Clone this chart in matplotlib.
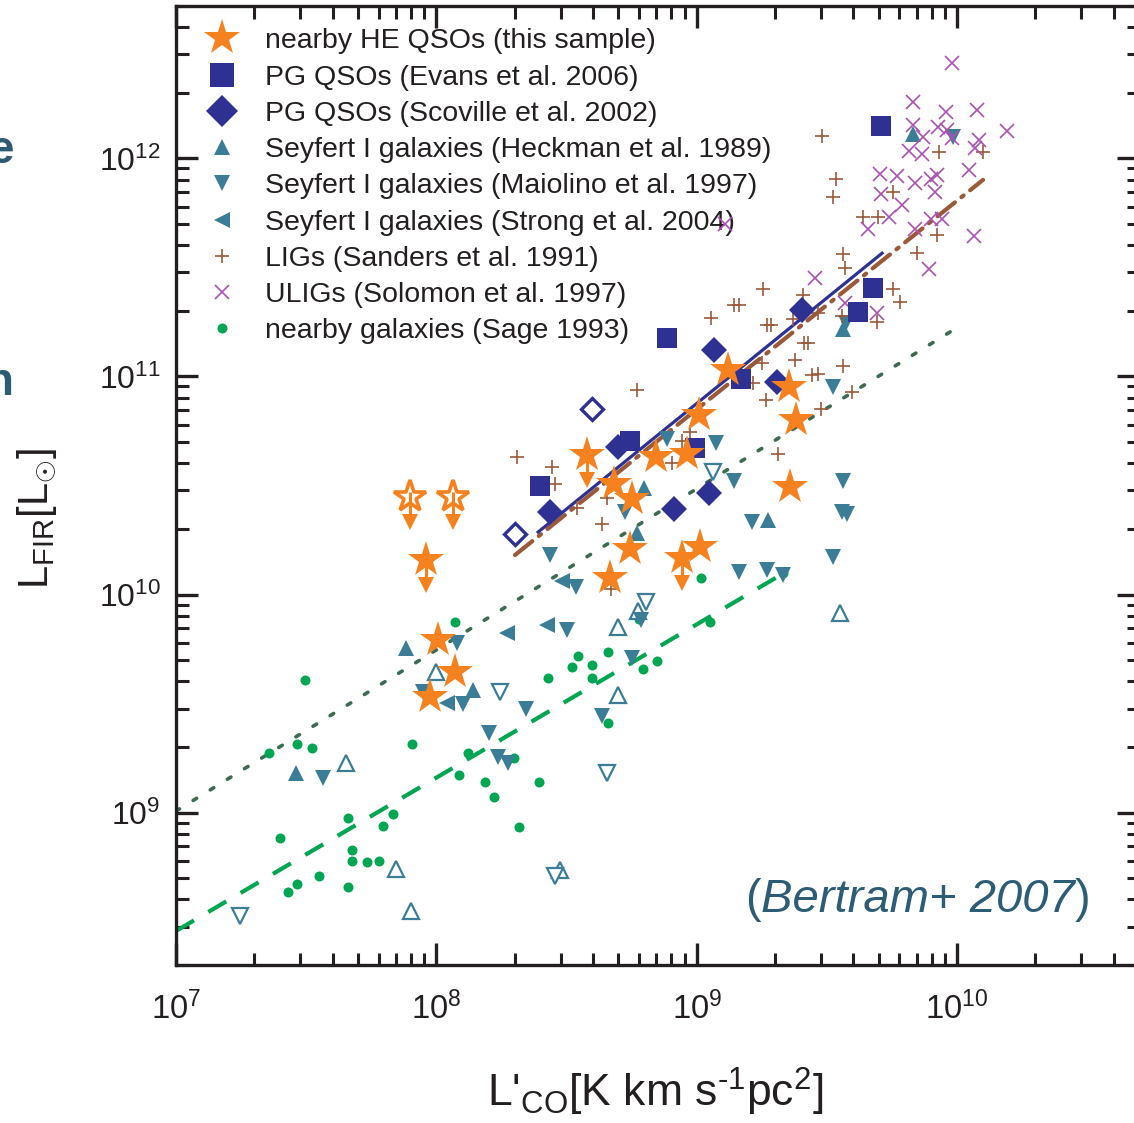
import numpy as np
import matplotlib
matplotlib.use('Agg')
import matplotlib.pyplot as plt
from matplotlib.lines import Line2D

plt.rcParams['font.family'] = ['Liberation Sans', 'DejaVu Sans']
plt.rcParams['mathtext.fontset'] = 'custom'
plt.rcParams['mathtext.rm'] = 'Liberation Sans'
plt.rcParams['mathtext.it'] = 'Liberation Sans:italic'
plt.rcParams['lines.scale_dashes'] = False

# ---------------- data (log10 values) ----------------
# nearby HE QSOs (this sample)
he_lx = [8.007, 8.072, 7.976, 8.683, 8.752, 8.744, 8.667, 8.844, 8.963, 9.009, 9.121, 9.355, 9.382, 9.359, 9.013]
he_ly = [9.792, 9.645, 9.530, 10.507, 10.438, 10.209, 10.076, 10.631, 10.645, 10.823, 11.030, 10.952, 10.800, 10.493, 10.218]
he_lim_lx = [7.960, 8.579, 8.944]
he_lim_ly = [10.158, 10.640, 10.168]
he_open_lx = [7.899, 8.064]
he_open_ly = [10.447, 10.447]

# PG QSOs (Evans et al. 2006)
evans_lx = [9.708, 9.678, 9.620, 8.886, 9.171, 8.744, 8.994, 8.398]
evans_ly = [12.149, 11.406, 11.296, 11.176, 10.988, 10.704, 10.672, 10.498]

# PG QSOs (Scoville et al. 2002)
scov_lx = [9.405, 9.067, 9.309, 8.698, 8.437, 9.048, 8.913]
scov_ly = [11.305, 11.121, 10.975, 10.677, 10.379, 10.466, 10.392]
scov_open_lx = [8.598, 8.302]
scov_open_ly = [10.851, 10.278]

# Seyfert I (Heckman et al. 1989)
heck_lx = [9.831, 9.562, 8.798, 8.771, 9.274, 7.884, 8.141, 7.461]
heck_ly = [12.112, 11.218, 10.489, 10.282, 10.342, 9.755, 9.562, 9.182]
heck_open_lx = [7.999, 7.653, 7.845, 7.903, 8.698, 8.475, 8.698, 8.775, 9.551]
heck_open_ly = [9.645, 9.227, 8.741, 8.549, 9.539, 8.737, 9.851, 9.925, 9.915]

# Seyfert I (Maiolino et al. 1997)
maio_lx = [9.524, 9.075, 8.886, 9.144, 9.562, 9.559, 9.578, 9.213, 9.524, 9.163, 9.270, 9.332,
           8.725, 8.437, 8.537, 8.502, 8.080, 8.752, 8.637, 8.345, 8.103, 7.949, 8.202, 8.237,
           8.275, 7.565, 9.985, 9.574, 8.786]
maio_ly = [10.952, 10.695, 10.713, 10.521, 10.521, 10.379, 10.369, 10.333, 10.172, 10.103, 10.113, 10.090,
           10.379, 10.181, 10.035, 9.837, 9.778, 9.709, 9.443, 9.475, 9.498, 9.553, 9.365, 9.255,
           9.227, 9.159, 12.098, 11.245, 9.883]
maio_open_lx = [7.246, 8.245, 8.656, 8.456, 8.806, 9.063]
maio_open_ly = [8.526, 9.553, 9.182, 8.709, 9.966, 10.562]

# Seyfert I (Strong et al. 2004)
strong_lx = [8.483, 8.425, 8.272, 8.041]
strong_ly = [10.062, 9.860, 9.824, 9.503]

# LIGs (Sanders et al. 1991)
lig_lx = [9.482, 9.536, 9.524, 9.639, 9.697, 9.755, 9.931, 10.100, 9.924, 9.847, 9.562, 9.570,
          9.255, 9.409, 9.755, 9.781, 9.144, 9.163, 9.055, 9.270, 9.286, 9.370, 9.466, 9.559,
          9.693, 9.413, 9.428, 9.251, 9.378, 9.443, 9.466, 9.562, 9.597, 9.478, 9.217, 9.267,
          8.975, 8.944, 8.906, 9.313, 8.771, 8.310, 8.444, 8.456, 8.541, 8.656, 8.637, 8.671]
lig_ly = [12.103, 11.906, 11.823, 11.731, 11.731, 11.846, 12.029, 12.029, 11.649, 11.566, 11.562, 11.497,
          11.401, 11.374, 11.401, 11.342, 11.328, 11.328, 11.268, 11.236, 11.236, 11.264, 11.291, 11.277,
          11.250, 11.154, 11.154, 11.062, 11.076, 11.007, 11.011, 11.048, 10.929, 10.851, 10.970, 10.892,
          10.745, 10.704, 10.603, 10.645, 10.938, 10.631, 10.585, 10.507, 10.397, 10.443, 10.324, 10.025]

# ULIGs (Solomon et al. 1997)
ulig_lx = [9.981, 9.831, 9.958, 10.077, 9.831, 9.927, 9.962, 9.870, 9.981, 10.085, 10.070, 10.192,
           9.816, 9.866, 9.705, 9.770, 9.839, 9.900, 9.924, 9.916, 10.047, 9.708, 9.789, 9.739,
           9.658, 9.839, 9.900, 9.943, 10.066, 9.893, 9.455, 9.570, 9.693, 9.109]
ulig_ly = [12.438, 12.259, 12.213, 12.222, 12.153, 12.144, 12.130, 12.098, 12.094, 12.084, 12.048, 12.126,
           12.034, 12.020, 11.929, 11.919, 11.887, 11.906, 11.924, 11.846, 11.947, 11.837, 11.786, 11.731,
           11.676, 11.676, 11.722, 11.722, 11.644, 11.493, 11.452, 11.337, 11.291, 11.699]

# nearby galaxies (Sage 1993)
sage_lx = [7.496, 7.465, 7.522, 7.357, 7.907, 7.661, 7.400, 7.795, 7.834, 7.676, 7.676, 7.734, 7.780,
           7.549, 7.465, 7.430, 7.661, 8.087, 8.187, 8.222, 8.299, 8.395, 8.318, 8.429, 8.521, 8.544,
           8.598, 8.598, 8.660, 8.660, 8.794, 8.072, 8.122, 8.779, 9.017, 9.051, 8.848, 9.332]
sage_ly = [9.608, 9.315, 9.296, 9.273, 9.315, 8.975, 8.884, 8.939, 8.994, 8.828, 8.778, 8.774, 8.778,
           8.709, 8.673, 8.636, 8.659, 9.172, 9.140, 9.072, 9.250, 9.140, 8.934, 9.617, 9.668, 9.718,
           9.677, 9.617, 9.737, 9.411, 9.659, 9.874, 9.273, 9.888, 10.076, 9.874, 9.695, 10.099]

# fitted relations: (slope, intercept, log x start, log x end)
fit_pg = (0.968, 2.164, 8.391, 9.712)
fit_lig = (0.957, 2.236, 8.302, 10.100)
fit_sey = (0.739, 3.834, 7.0, 10.004)
fit_gal = (0.703, 3.536, 7.0, 9.336)

labels = ['nearby HE QSOs (this sample)', 'PG QSOs (Evans et al. 2006)',
          'PG QSOs (Scoville et al. 2002)', 'Seyfert I galaxies (Heckman et al. 1989)',
          'Seyfert I galaxies (Maiolino et al. 1997)', 'Seyfert I galaxies (Strong et al. 2004)',
          'LIGs (Sanders et al. 1991)', 'ULIGs (Solomon et al. 1997)', 'nearby galaxies (Sage 1993)']

# ---------------- style ----------------
INK = '#231f20'
ORANGE = '#f5821f'
NAVY = '#2e3192'
TEAL = '#3b7d96'
BROWN = '#9a5a3a'
PURPLE = '#a852b2'
GREEN = '#00a651'
DKGREEN = '#3d6b52'
CITE = '#2d5d76'
ARROW_DEX = 0.115

W, H = 1134, 1123
fig = plt.figure(figsize=(W / 100, H / 100), dpi=100)
ax = fig.add_axes([176 / W, 1 - 965 / H, 963 / W, 959 / H])
ax.set_xscale('log')
ax.set_yscale('log')
ax.set_xlim(1e7, 5e10)
ax.set_ylim(2e8, 5e12)


def P(a):
    return 10 ** np.asarray(a, dtype=float)


def fit_line(fit, **kw):
    s, c, lo, hi = fit
    lx = np.array([lo, hi])
    ax.plot(P(lx), P(c + s * lx), **kw)


# fitted lines
fit_line(fit_sey, color=DKGREEN, lw=2.6, dashes=(3, 11.5), dash_capstyle='round', zorder=2)
fit_line(fit_gal, color=GREEN, lw=3.0, dashes=(15, 12), zorder=2)
fit_line(fit_lig, color=BROWN, lw=3.0, dashes=(16, 6, 2, 6), dash_capstyle='round', zorder=2)
fit_line(fit_pg, color=NAVY, lw=2.3, zorder=2)

# samples
ax.plot(P(sage_lx), P(sage_ly), 'o', ms=7.2, color=GREEN, mew=0, zorder=3)
ax.plot(P(heck_open_lx), P(heck_open_ly), '^', ms=11, mfc='white', mec=TEAL, mew=1.6, zorder=3)
ax.plot(P(maio_open_lx), P(maio_open_ly), 'v', ms=11, mfc='white', mec=TEAL, mew=1.6, zorder=3)
ax.plot(P(heck_lx), P(heck_ly), '^', ms=11.5, color=TEAL, mew=0, zorder=3)
ax.plot(P(maio_lx), P(maio_ly), 'v', ms=11.5, color=TEAL, mew=0, zorder=3)
ax.plot(P(strong_lx), P(strong_ly), '<', ms=11.5, color=TEAL, mew=0, zorder=3)
ax.plot(P(lig_lx), P(lig_ly), '+', ms=10, color=BROWN, mew=1.2, zorder=3)
ax.plot(P(ulig_lx), P(ulig_ly), 'x', ms=9.5, color=PURPLE, mew=1.2, zorder=3)

ax.plot(P(scov_lx), P(scov_ly), 'D', ms=13.2, color=NAVY, mew=0, zorder=4)
ax.plot(P(scov_open_lx), P(scov_open_ly), 'D', ms=11.5, mfc='white', mec=NAVY, mew=2.4, zorder=4)
ax.plot(P(evans_lx), P(evans_ly), 's', ms=13.8, color=NAVY, mew=0, zorder=4)

# HE QSOs
ax.plot(P(he_lx), P(he_ly), '*', ms=27, color=ORANGE, mew=0, zorder=5)
ax.plot(P(he_lim_lx), P(he_lim_ly), '*', ms=27, color=ORANGE, mew=0, zorder=5)
lim_x = P(he_lim_lx)
lim_y = P(he_lim_ly)
ax.vlines(lim_x, lim_y * 10 ** (-ARROW_DEX), lim_y, color=ORANGE, lw=2.2, zorder=5)
ax.plot(lim_x, lim_y * 10 ** (-ARROW_DEX), 'v', ms=12, color=ORANGE, mew=0, zorder=5)
ax.plot(P(he_open_lx), P(he_open_ly), '*', ms=24, mfc='white', mec=ORANGE, mew=2.6, zorder=5)
op_x = P(he_open_lx)
op_y = P(he_open_ly)
ax.vlines(op_x, op_y * 10 ** (-ARROW_DEX), op_y * 10 ** 0.025, color=ORANGE, lw=2.2, zorder=6)
ax.plot(op_x, op_y * 10 ** (-ARROW_DEX), 'v', ms=12, color=ORANGE, mew=0, zorder=6)

# legend
handles = [
    Line2D([], [], ls='none', marker='*', ms=27, color=ORANGE, mew=0),
    Line2D([], [], ls='none', marker='s', ms=17.5, color=NAVY, mew=0),
    Line2D([], [], ls='none', marker='D', ms=16, color=NAVY, mew=0),
    Line2D([], [], ls='none', marker='^', ms=11, color=TEAL, mew=0),
    Line2D([], [], ls='none', marker='v', ms=11, color=TEAL, mew=0),
    Line2D([], [], ls='none', marker='<', ms=11, color=TEAL, mew=0),
    Line2D([], [], ls='none', marker='+', ms=10, color=BROWN, mew=1.2),
    Line2D([], [], ls='none', marker='x', ms=9.5, color=PURPLE, mew=1.2),
    Line2D([], [], ls='none', marker='o', ms=7.2, color=GREEN, mew=0),
]
leg = ax.legend(handles, labels, loc='upper left', bbox_to_anchor=(0.0239, 0.9767),
                frameon=False, fontsize=20.5, handlelength=1.6, handletextpad=0.73,
                labelspacing=0.36, borderpad=0, borderaxespad=0, numpoints=1,
                labelcolor=INK)
leg.set_zorder(1)

# axes styling
for s in ax.spines.values():
    s.set_linewidth(2.4)
    s.set_color(INK)
ax.tick_params(which='both', direction='in', top=True, right=True, colors=INK)
ax.tick_params(which='major', length=15.5, width=2.4)
ax.tick_params(which='minor', length=9, width=2.2)
ax.tick_params(axis='x', which='major', labelsize=23.5, pad=19)
ax.tick_params(axis='y', which='major', labelsize=23, pad=11)

ax.set_xlabel(r"L'$_{\mathdefault{CO}}$[K km s$^{\text{-1}}$pc$^{\mathdefault{2}}$]",
              fontsize=32, color=INK)
ax.xaxis.label.set_verticalalignment('baseline')
ax.xaxis.set_label_coords(0.498, -0.148)
ax.set_ylabel(r"L$_{\mathdefault{FIR}}$[L$_{\odot}$]", fontsize=30, color=INK)
ax.yaxis.set_label_coords(-0.122, 0.466)

# citation
t1 = ax.text(0.591, 0.0553, '(', transform=ax.transAxes, fontsize=34, color=CITE,
             ha='left', va='baseline', zorder=7)
t2 = ax.annotate('Bertram+ 2007', xy=(1, 0), xycoords=t1, ha='left', va='bottom',
                 fontsize=34, style='italic', color=CITE, zorder=7)
t3 = ax.annotate(')', xy=(1, 0), xycoords=t2, ha='left', va='bottom',
                 fontsize=34, color=CITE, zorder=7)

# cropped slide-title fragments at the left edge
fig.text(14 / W, 1 - 163 / H, 'e', ha='right', va='baseline', fontsize=33,
         fontweight='bold', color='#2c5b72')
fig.text(14 / W, 1 - 395 / H, 'n', ha='right', va='baseline', fontsize=33,
         fontweight='bold', color='#2c5b72')

fig.savefig('out.png', dpi=100)
